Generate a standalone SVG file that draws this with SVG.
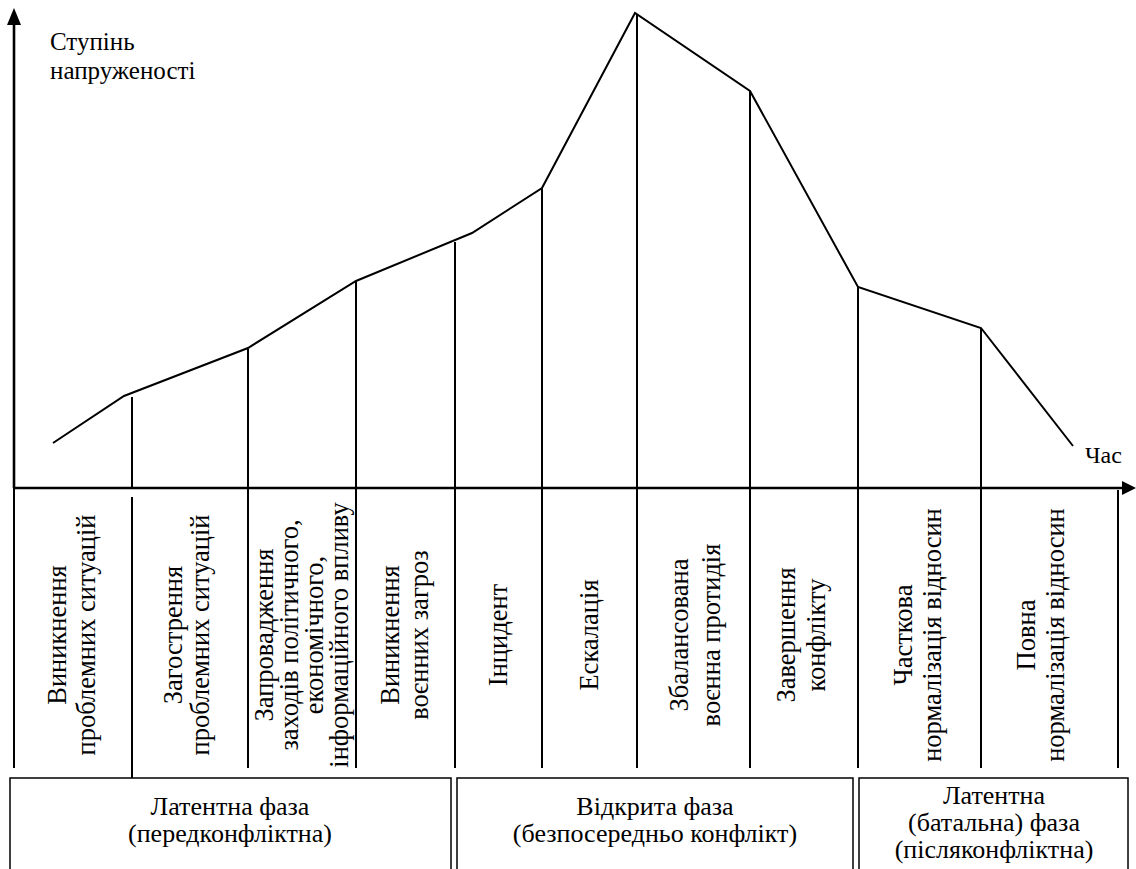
<svg xmlns="http://www.w3.org/2000/svg" width="1136" height="869" viewBox="0 0 1136 869">
<rect width="1136" height="869" fill="#fff"/>
<g id="axes">
<path d="M14,488 L14,22" stroke="#000" stroke-width="2.6" fill="none"/>
<path d="M14,8 L21,25 L7,25 z" fill="#000"/>
<path d="M14,488 L1124,488" stroke="#000" stroke-width="2.6" fill="none"/>
<path d="M1136,488 L1122,481 L1122,495 z" fill="#000"/>
<text x="50" y="50" font-family="Liberation Serif" font-size="25">Ступінь</text>
<text x="50" y="79" font-family="Liberation Serif" font-size="25">напруженості</text>
<text x="1085" y="463" font-family="Liberation Serif" font-size="24">Час</text>
</g>
<g id="connectors" stroke="#000" stroke-width="2" fill="none">
<polyline points="53,443 124,396 248,348 356,281 472,233 542,188 635,13 750,91 858,287 981,328 1073,446"/>
<line x1="132" y1="397" x2="132" y2="488"/>
<line x1="132" y1="497" x2="132" y2="778"/>
<line x1="14" y1="488" x2="14" y2="768"/>
<line x1="248" y1="349" x2="248" y2="768"/>
<line x1="356" y1="281" x2="356" y2="768"/>
<line x1="455" y1="242" x2="455" y2="768"/>
<line x1="542" y1="188" x2="542" y2="768"/>
<line x1="637" y1="15" x2="637" y2="768"/>
<line x1="750" y1="91" x2="750" y2="768"/>
<line x1="858" y1="287" x2="858" y2="768"/>
<line x1="981" y1="328" x2="981" y2="768"/>
<line x1="1118" y1="490" x2="1118" y2="768"/>
</g>
<g id="stage1"><text font-family="Liberation Serif" font-size="26.5" text-anchor="middle" transform="translate(66,635) rotate(-90)"><tspan x="0" y="0">Виникнення</tspan><tspan x="0" dy="29">проблемних ситуацій</tspan></text></g>
<g id="stage2"><text font-family="Liberation Serif" font-size="26.5" text-anchor="middle" transform="translate(182,635) rotate(-90)"><tspan x="0" y="0">Загострення</tspan><tspan x="0" dy="27">проблемних ситуацій</tspan></text></g>
<g id="stage3"><text font-family="Liberation Serif" font-size="26.5" text-anchor="middle" transform="translate(273,635) rotate(-90)"><tspan x="0" y="0">Запровадження</tspan><tspan x="0" dy="25">заходів політичного,</tspan><tspan x="0" dy="25">економічного,</tspan><tspan x="0" dy="25">інформаційного впливу</tspan></text></g>
<g id="stage4"><text font-family="Liberation Serif" font-size="26.5" text-anchor="middle" transform="translate(399,635) rotate(-90)"><tspan x="0" y="0">Виникнення</tspan><tspan x="0" dy="29">воєнних загроз</tspan></text></g>
<g id="stage5"><text font-family="Liberation Serif" font-size="26.5" text-anchor="middle" transform="translate(507,635) rotate(-90)">Інцидент</text></g>
<g id="stage6"><text font-family="Liberation Serif" font-size="26.5" text-anchor="middle" transform="translate(598,635) rotate(-90)">Ескалація</text></g>
<g id="stage7"><text font-family="Liberation Serif" font-size="26.5" text-anchor="middle" transform="translate(688,635) rotate(-90)"><tspan x="0" y="0">Збалансована</tspan><tspan x="0" dy="32">воєнна протидія</tspan></text></g>
<g id="stage8"><text font-family="Liberation Serif" font-size="26.5" text-anchor="middle" transform="translate(795,635) rotate(-90)"><tspan x="0" y="0">Завершення</tspan><tspan x="0" dy="30">конфлікту</tspan></text></g>
<g id="stage9"><text font-family="Liberation Serif" font-size="26.5" text-anchor="middle" transform="translate(912,635) rotate(-90)"><tspan x="0" y="0">Часткова</tspan><tspan x="0" dy="29">нормалізація відносин</tspan></text></g>
<g id="stage10"><text font-family="Liberation Serif" font-size="26.5" text-anchor="middle" transform="translate(1035,635) rotate(-90)"><tspan x="0" y="0">Повна</tspan><tspan x="0" dy="29">нормалізація відносин</tspan></text></g>
<g id="phase1"><rect x="10" y="778" width="441" height="100" stroke="#000" stroke-width="1.5" fill="none"/><text x="230" y="815" font-family="Liberation Serif" font-size="26" text-anchor="middle">Латентна фаза</text><text x="230" y="842" font-family="Liberation Serif" font-size="26" text-anchor="middle">(передконфліктна)</text></g>
<g id="phase2"><rect x="457" y="778" width="396" height="100" stroke="#000" stroke-width="1.5" fill="none"/><text x="655" y="815" font-family="Liberation Serif" font-size="26" text-anchor="middle">Відкрита фаза</text><text x="655" y="842" font-family="Liberation Serif" font-size="26" text-anchor="middle">(безпосередньо конфлікт)</text></g>
<g id="phase3"><rect x="859" y="778" width="269" height="100" stroke="#000" stroke-width="1.5" fill="none"/><text x="994" y="804" font-family="Liberation Serif" font-size="26" text-anchor="middle">Латентна</text><text x="994" y="831" font-family="Liberation Serif" font-size="26" text-anchor="middle">(батальна) фаза</text><text x="994" y="858" font-family="Liberation Serif" font-size="26" text-anchor="middle">(післяконфліктна)</text></g>
</svg>
